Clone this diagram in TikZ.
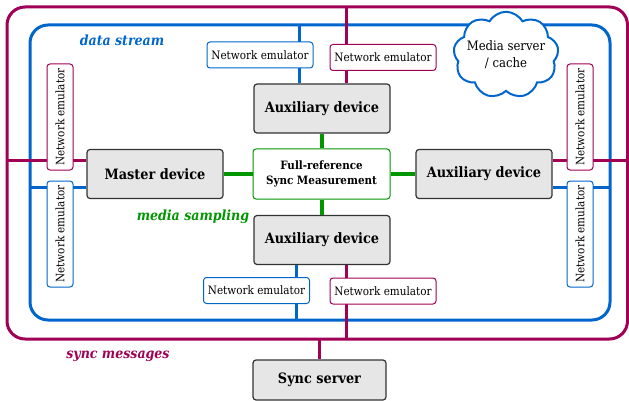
\documentclass[tikz,border=0pt]{standalone}
\usepackage{fontspec}
\setmainfont{DejaVu Serif Condensed}
\usetikzlibrary{shapes.symbols}
\definecolor{mag}{RGB}{160,0,85}
\definecolor{blu}{RGB}{0,102,204}
\definecolor{grn}{RGB}{0,150,0}
\definecolor{boxgray}{RGB}{230,230,230}
\tikzset{
  device/.style={draw=black!80,fill=boxgray,line width=1.2pt,rounded corners=3pt,minimum width=136pt,minimum height=49pt,font=\fontsize{14.3}{17}\selectfont\bfseries,inner sep=0pt},
  emu/.style={draw=#1,fill=white,line width=1pt,rounded corners=3pt,minimum width=106pt,minimum height=26pt,font=\fontsize{11.6}{14}\selectfont,inner sep=0pt},
  magline/.style={draw=mag,line width=3pt},
  blueline/.style={draw=blu,line width=3pt},
  greenline/.style={draw=grn,line width=4pt},
  lbl/.style={font=\fontsize{14}{16}\selectfont\bfseries\itshape}
}
\begin{document}
\begin{tikzpicture}[x=1pt,y=-1pt]
\useasboundingbox (0,0) rectangle (629,401);
% outer rounded rectangles
\draw[magline,rounded corners=18pt] (7,7) rectangle (627.5,339);
\draw[blueline,rounded corners=18pt] (30,25) rectangle (610,320);
% coordinates for free ends
\coordinate (bt) at (299,25);
\coordinate (mt) at (346,7);
\coordinate (bb) at (296,320);
\coordinate (mb) at (346,339);
\coordinate (ms) at (319.5,339);
\coordinate (ml) at (7,160);
\coordinate (bl) at (30,187);
\coordinate (mr) at (629,160);
\coordinate (br) at (610,187);
% device nodes
\node[device] (auxT) at (322,108.5) {Auxiliary device};
\node[device] (master) at (155,174) {Master device};
\node[device] (auxR) at (484,174) {Auxiliary device};
\node[device] (auxB) at (322,240) {Auxiliary device};
\node[device,minimum width=133pt,minimum height=40pt] (sync) at (319.5,380) {Sync server};
\node[draw=grn,fill=white,line width=1pt,rounded corners=3pt,minimum width=137pt,minimum height=50pt,align=center,font=\fontsize{11.5}{15}\selectfont\bfseries,inner sep=0pt] (fr) at (321.5,174) {Full-reference\\Sync Measurement};
% connectors
\draw[blueline] (bt) -- (bt |- auxT.north);
\draw[magline] (mt) -- (mt |- auxT.north);
\draw[blueline] (bb |- auxB.south) -- (bb);
\draw[magline] (mb |- auxB.south) -- (mb);
\draw[magline] (ms) -- (ms |- sync.north);
\draw[magline] (ml) -- (ml -| master.west);
\draw[blueline] (bl) -- (bl -| master.west);
\draw[magline] (mr -| auxR.east) -- (mr);
\draw[blueline] (br -| auxR.east) -- (br);
\draw[greenline] (master.east) -- (fr.west);
\draw[greenline] (fr.east) -- (auxR.west);
\draw[greenline] (auxT.south -| fr.north) -- (fr.north);
\draw[greenline] (fr.south) -- (auxB.north -| fr.south);
% network emulators
\node[emu=blu] (neT1) at (260,55) {Network emulator};
\node[emu=mag] (neT2) at (383,57.5) {Network emulator};
\node[emu=blu] (neB1) at (256.5,290.5) {Network emulator};
\node[emu=mag] (neB2) at (383,291) {Network emulator};
\node[emu=mag,rotate=90] (neL1) at (60,117) {Network emulator};
\node[emu=blu,rotate=90] (neL2) at (60,234) {Network emulator};
\node[emu=mag,rotate=90] (neR1) at (580,117) {Network emulator};
\node[emu=blu,rotate=90] (neR2) at (580,234) {Network emulator};
% cloud
\node[cloud,cloud puffs=9,cloud puff arc=120,aspect=1.35,draw=blu,line width=2pt,fill=white,align=center,inner sep=-5pt,font=\fontsize{13}{17}\selectfont] (cloud) at (506,55) {Media server\\/ cache};
% labels
\node[lbl,text=blu] (ds) at (122,40) {data stream};
\node[lbl,text=grn] (msam) at (193,217) {media sampling};
\node[lbl,text=mag] (smsg) at (118,356) {sync messages};
\end{tikzpicture}
\end{document}
